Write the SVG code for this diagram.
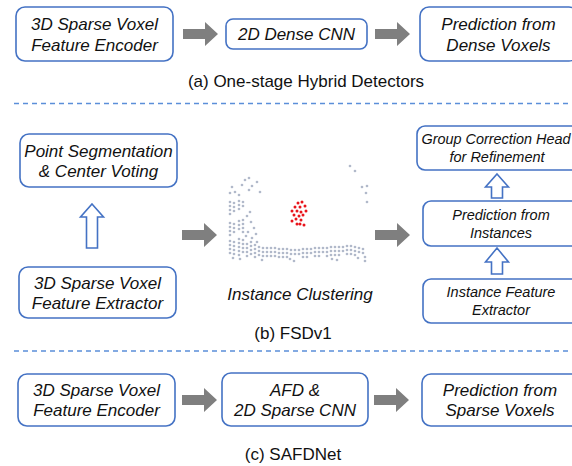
<svg xmlns="http://www.w3.org/2000/svg" width="572" height="466" viewBox="0 0 572 466">
<style>
.box{fill:#fff;stroke:#4472c4;stroke-width:1.6}
.t{font-family:"Liberation Sans",Arial,sans-serif;font-size:17px;font-style:italic;fill:#111;text-anchor:middle}
.ts{font-family:"Liberation Sans",Arial,sans-serif;font-size:14.5px;font-style:italic;fill:#111;text-anchor:middle}
.cap{font-family:"Liberation Sans",Arial,sans-serif;font-size:17px;fill:#111;text-anchor:middle}
.ga{fill:#7f7f7f}
.ha{fill:#fff;stroke:#4472c4;stroke-width:1.6}
.dash{stroke:#5b8fd9;stroke-width:1.3;stroke-dasharray:5 4;fill:none}
.pc{fill:none;stroke:#b1b9ca;stroke-width:2.7;stroke-linecap:round}
.pr{fill:none;stroke:#e8141b;stroke-width:3;stroke-linecap:round}
</style>
<defs>
<polygon id="garrow" points="0,-5 22,-5 22,-12 35,0 22,12 22,5 0,5"/>
<polygon id="harrow" points="0,0 11.5,13 5.5,13 5.5,44 -5.5,44 -5.5,13 -11.5,13"/>
<polygon id="harrowS" points="0,0 11.5,13 5.5,13 5.5,24 -5.5,24 -5.5,13 -11.5,13"/>
<polygon id="harrowS2" points="0,0 11.5,14 5.5,14 5.5,26 -5.5,26 -5.5,14 -11.5,14"/>
</defs>

<!-- Section (a) -->
<g id="a-encoder"><rect class="box" x="16" y="7" width="157" height="54" rx="9"/><text class="t" x="94.5" y="30">3D Sparse Voxel</text><text class="t" x="94.5" y="51">Feature Encoder</text></g>
<g id="a-cnn"><rect class="box" x="226" y="19" width="141" height="30" rx="7"/><text class="t" x="296.5" y="40">2D Dense CNN</text></g>
<g id="a-pred"><rect class="box" x="420" y="7" width="158" height="54" rx="9"/><text class="t" x="498.5" y="30">Prediction from</text><text class="t" x="498.5" y="51">Dense Voxels</text></g>
<text class="cap" x="306" y="87">(a) One-stage Hybrid Detectors</text>
<line class="dash" x1="14" y1="103.5" x2="572" y2="103.5"/>

<!-- Section (b) -->
<g id="b-seg"><rect class="box" x="20" y="134" width="157" height="53" rx="9"/><text class="t" x="98.5" y="157">Point Segmentation</text><text class="t" x="98.5" y="177">&amp; Center Voting</text></g>
<g id="b-extractor"><rect class="box" x="19" y="267" width="157" height="51" rx="9"/><text class="t" x="97.5" y="289">3D Sparse Voxel</text><text class="t" x="97.5" y="309">Feature Extractor</text></g>
<g id="b-cluster">
<path class="pc" d="M232 187h0M235 192h0M242 185h0M245 180h0M249 178h0M252 186h0M257 182h0M260 192h0M249 190h0M230 193h0M239 195h0
M230 202h0M230 206h0M230 210h0M230 214h0M230 223h0M230 227h0M230 231h0M230 235h0M230 241h0M230 245h0M230 249h0M230 253h0
M234 203h0M234 207h0M234 211h0M234 224h0M234 228h0M234 232h0M234 242h0M234 246h0M234 250h0M234 254h0
M239 201h0M239 205h0M239 209h0M239 221h0M239 225h0M239 229h0M239 239h0M239 243h0M239 247h0M239 251h0M239 255h0
M243 202h0M243 206h0M243 220h0M243 224h0M243 228h0M243 232h0M243 240h0M243 244h0M243 248h0M243 252h0
M247 216h0M250 212h0M251 222h0M254 228h0M256 234h0M252 238h0M257 242h0M248 232h0M246 236h0
M247 244h0M247 248h0M247 252h0M247 256h0M251 242h0M251 246h0M251 250h0M251 254h0M255 245h0M255 249h0M255 253h0M255 257h0
M259 247h0M259 251h0M259 255h0M263 248h0M263 252h0M263 256h0M267 248h0M267 252h0M267 256h0M271 248h0M271 252h0M271 256h0
M275 248h0M275 252h0M275 256h0M279 249h0M279 253h0M279 257h0M283 249h0M283 253h0M283 257h0M287 249h0M287 253h0M287 257h0
M291 250h0M291 254h0M295 250h0M295 254h0M299 250h0M299 254h0M303 249h0M303 253h0M303 257h0M307 249h0M307 253h0M307 257h0
M311 249h0M311 253h0M315 248h0M315 252h0M315 256h0M319 248h0M319 252h0M319 256h0M323 248h0M323 252h0M327 248h0M327 252h0M327 256h0
M331 247h0M331 251h0M331 255h0M335 247h0M335 251h0M335 255h0M339 247h0M339 251h0M339 255h0M343 247h0M343 251h0M347 246h0M347 250h0M347 254h0
M351 246h0M351 250h0M351 254h0M355 247h0M355 251h0M355 255h0M359 248h0M359 252h0M363 249h0M363 253h0M365 257h0
M233 258h0M240 259h0M262 260h0M290 259h0M294 261h0M332 259h0M337 260h0M358 258h0M365 261h0
M350 166h0M355 171h0M362 187h0M367 186h0M366 193h0M367 202h0"/>
<path class="pr" d="M298 203h0M302 202h0M295 207h0M300 207h0M305 206h0M292 211h0M297 211h0M301 212h0M306 211h0M294 215h0M299 216h0M303 215h0M296 219h0M301 220h0M292 221h0M297 224h0M304 225h0M300 224h0"/>
<text class="t" x="300" y="300">Instance Clustering</text>
</g>
<g id="b-group"><rect class="box" x="417" y="126" width="166" height="44" rx="8"/><text class="ts" x="496" y="144" textLength="149" lengthAdjust="spacingAndGlyphs">Group Correction Head</text><text class="ts" x="497" y="162">for Refinement</text></g>
<g id="b-pred"><rect class="box" x="423" y="201" width="158" height="45" rx="8"/><text class="ts" x="501" y="220">Prediction from</text><text class="ts" x="501" y="238">Instances</text></g>
<g id="b-instfeat"><rect class="box" x="423" y="279" width="158" height="44" rx="8"/><text class="ts" x="501" y="297">Instance Feature</text><text class="ts" x="501" y="315">Extractor</text></g>
<text class="cap" x="293" y="339">(b) FSDv1</text>
<line class="dash" x1="14" y1="351" x2="572" y2="351"/>

<!-- Section (c) -->
<g id="c-encoder"><rect class="box" x="18" y="374" width="157" height="52" rx="9"/><text class="t" x="96.5" y="396">3D Sparse Voxel</text><text class="t" x="96.5" y="416">Feature Encoder</text></g>
<g id="c-afd"><rect class="box" x="222" y="373" width="146" height="53" rx="9"/><text class="t" x="295" y="396">AFD &amp;</text><text class="t" x="295" y="416">2D Sparse CNN</text></g>
<g id="c-pred"><rect class="box" x="422" y="374" width="158" height="52" rx="9"/><text class="t" x="500" y="396">Prediction from</text><text class="t" x="500" y="416">Sparse Voxels</text></g>
<text class="cap" x="293" y="460">(c) SAFDNet</text>

<!-- Connectors -->
<g id="connectors">
<use href="#garrow" class="ga" x="183" y="34"/>
<use href="#garrow" class="ga" x="375" y="34"/>
<use href="#garrow" class="ga" x="182" y="235"/>
<use href="#garrow" class="ga" x="375" y="235"/>
<use href="#garrow" class="ga" x="182" y="400"/>
<use href="#garrow" class="ga" x="374" y="400"/>
<use href="#harrow" class="ha" x="92" y="204"/>
<use href="#harrowS" class="ha" x="497" y="174"/>
<use href="#harrowS2" class="ha" x="497" y="248"/>
</g>
</svg>
